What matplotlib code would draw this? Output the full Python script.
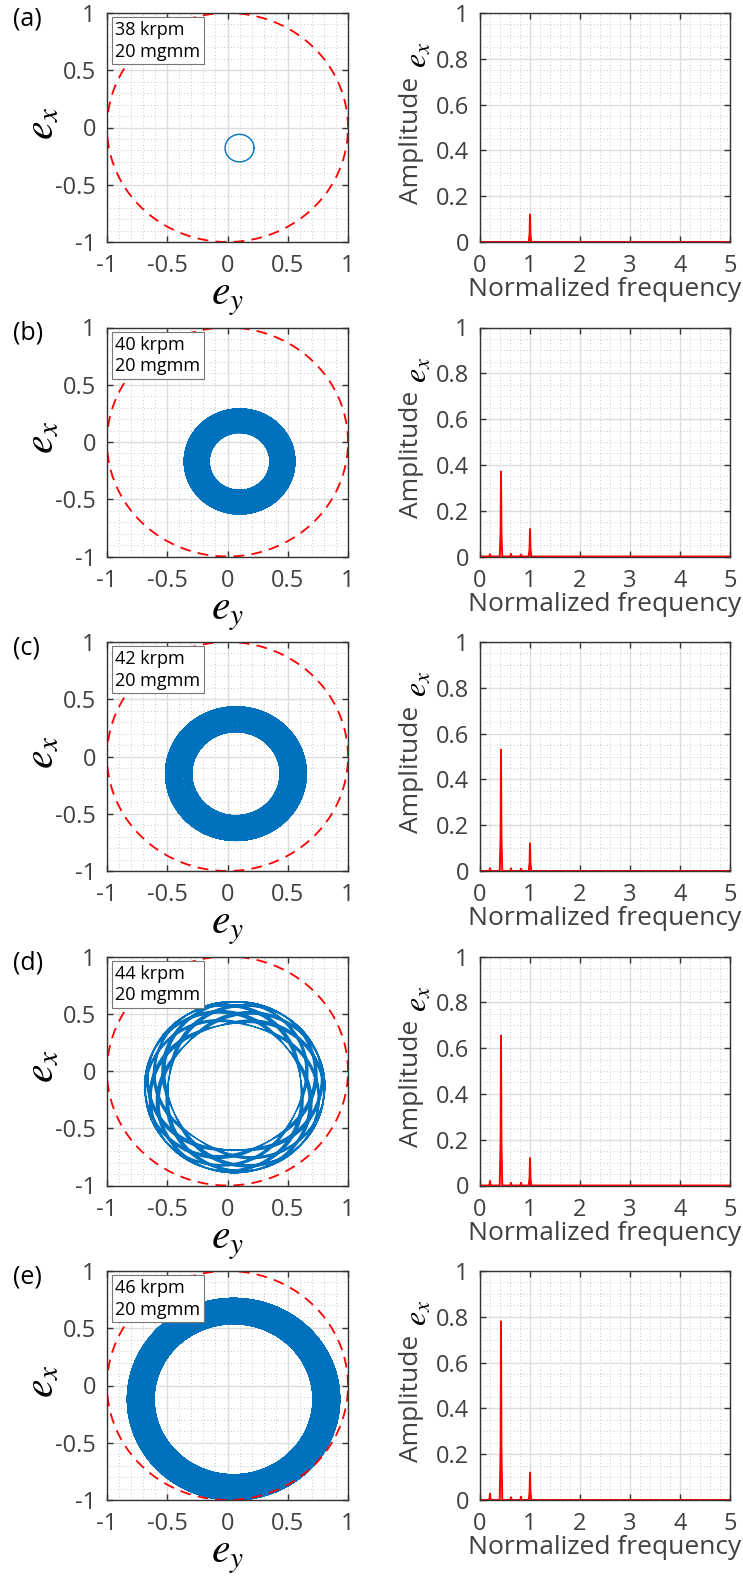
import numpy as np
import matplotlib.pyplot as plt
from matplotlib.ticker import MultipleLocator

plt.rcParams['font.family'] = ['Open Sans', 'DejaVu Sans']
plt.rcParams['mathtext.fontset'] = 'stix'
plt.rcParams['axes.unicode_minus'] = False

# panel data
labels = ['(a)', '(b)', '(c)', '(d)', '(e)']
speeds = ['38 krpm', '40 krpm', '42 krpm', '44 krpm', '46 krpm']
unbalance = '20 mgmm'

# orbit description: centre (e_y, e_x), synchronous radius, sub-synchronous radius
orbit_cy = [0.10, 0.10, 0.07, 0.06, 0.05]
orbit_cx = [-0.18, -0.17, -0.15, -0.14, -0.12]
sync_r = [0.12, 0.105, 0.11, 0.10, 0.11]
sub_r = [0.0, 0.355, 0.475, 0.65, 0.77]
sub_ratio = [0.42, 0.4213, 0.4217, 0.4213, 0.4219]
n_revs = [1, 400, 450, 90, 900]
line_w = [1.0, 0.6, 0.6, 0.6, 0.9]

# spectrum peaks (normalized frequency, amplitude)
peak_f = [0.2, 0.42, 0.62, 0.82, 1.0]
peak_amp = [
    [0.0, 0.0, 0.0, 0.0, 0.12],
    [0.01, 0.37, 0.012, 0.008, 0.12],
    [0.012, 0.53, 0.012, 0.01, 0.12],
    [0.02, 0.655, 0.012, 0.012, 0.12],
    [0.028, 0.78, 0.012, 0.015, 0.12],
]

W, H = 743, 1585
fig = plt.figure(figsize=(W / 100, H / 100), dpi=100)

axcol = '#333333'
txtcol = '#404040'
red = '#ff0000'
blue = '#0072BD'


def style(ax):
    ax.grid(True, which='major', color='#dddddd', lw=1.0, ls='-')
    ax.grid(True, which='minor', color='#b5b5b5', lw=0.6, ls=(0, (1, 3)))
    ax.set_axisbelow(True)
    ax.tick_params(which='major', direction='in', length=4, width=1,
                   top=True, right=True, colors=axcol, labelsize=17,
                   labelcolor=txtcol)
    ax.tick_params(axis='x', which='major', pad=9)
    ax.tick_params(axis='y', which='major', pad=8)
    ax.tick_params(which='minor', length=0)
    for s in ax.spines.values():
        s.set_color(axcol)
        s.set_linewidth(1.0)


for i in range(5):
    top = 13 + i * 314.5
    # orbit
    ax = fig.add_axes([107 / W, 1 - (top + 229) / H, 241 / W, 229 / H])
    t = np.linspace(0, 2 * np.pi * n_revs[i], n_revs[i] * 100 + 1)
    ey = orbit_cy[i] + sync_r[i] * np.cos(t) + sub_r[i] * np.cos(sub_ratio[i] * t)
    ex = orbit_cx[i] + sync_r[i] * np.sin(t) + sub_r[i] * np.sin(sub_ratio[i] * t)
    ax.plot(ey, ex, color=blue, lw=line_w[i])
    a = np.linspace(0, 2 * np.pi, 400)
    ax.plot(np.cos(a), np.sin(a), color=red, lw=1.3, ls=(0, (6, 4)))
    ax.set_xlim(-1, 1)
    ax.set_ylim(-1, 1)
    ax.set_xticks([-1, -0.5, 0, 0.5, 1])
    ax.set_yticks([-1, -0.5, 0, 0.5, 1])
    ax.set_xticklabels(['-1', '-0.5', '0', '0.5', '1'])
    ax.set_yticklabels(['-1', '-0.5', '0', '0.5', '1'])
    ax.xaxis.set_minor_locator(MultipleLocator(0.1))
    ax.yaxis.set_minor_locator(MultipleLocator(0.1))
    style(ax)
    ax.text(0.5, -0.15, '$e_y$', transform=ax.transAxes, fontsize=30,
            ha='center', va='top')
    ax.text(-0.27, 0.52, '$e_x$', transform=ax.transAxes, fontsize=30,
            ha='center', va='center', rotation=90)
    ax.text(0.035, 0.965, speeds[i] + '\n' + unbalance, transform=ax.transAxes,
            ha='left', va='top', fontsize=13, color='black', linespacing=1.25,
            bbox=dict(boxstyle='square,pad=0.2', fc='white', ec='#777777', lw=0.8))
    fig.text(13 / W, 1 - (top + 6) / H, labels[i], fontsize=18, va='center', ha='left')

    # spectrum
    ax2 = fig.add_axes([480 / W, 1 - (top + 229) / H, 250 / W, 229 / H])
    fx = [0.0]
    fy = [0.0]
    for f, amp in zip(peak_f, peak_amp[i]):
        if amp > 0:
            fx += [f - 0.025, f - 0.008, f, f + 0.008, f + 0.025]
            fy += [0.0, amp * 0.3, amp, amp * 0.3, 0.0]
    fx.append(5.0)
    fy.append(0.0)
    ax2.plot(fx, fy, color=red, lw=1.4)
    ax2.set_xlim(0, 5)
    ax2.set_ylim(0, 1)
    ax2.set_xticks([0, 1, 2, 3, 4, 5])
    ax2.set_yticks([0, 0.2, 0.4, 0.6, 0.8, 1])
    ax2.set_yticklabels(['0', '0.2', '0.4', '0.6', '0.8', '1'])
    ax2.xaxis.set_minor_locator(MultipleLocator(0.2))
    ax2.yaxis.set_minor_locator(MultipleLocator(0.05))
    style(ax2)
    ax2.text(0.5, -0.155, 'Normalized frequency', transform=ax2.transAxes,
             fontsize=19, color=txtcol, ha='center', va='top')
    ax2.text(-0.275, 0.445, 'Amplitude', transform=ax2.transAxes, fontsize=19,
             color=txtcol, ha='center', va='center', rotation=90)
    ax2.text(-0.245, 0.815, '$e_x$', transform=ax2.transAxes, fontsize=23,
             ha='center', va='center', rotation=90)

fig.savefig('out.png', dpi=100)
